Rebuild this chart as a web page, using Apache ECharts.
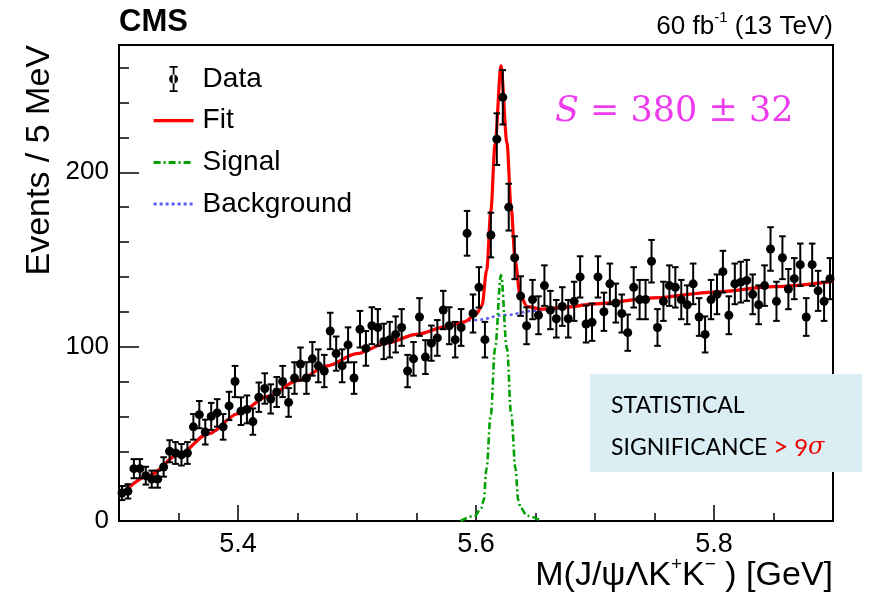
<!DOCTYPE html>
<html>
<head>
<meta charset="utf-8">
<script src="https://cdn.jsdelivr.net/npm/echarts@6/dist/echarts.min.js"></script>
<style>
html,body{margin:0;padding:0;background:#fff;}
#chart{width:874px;height:597px;}
</style>
</head>
<body>
<div id="chart"></div>
<script>
// ---- data ----
const binStart = 5.3;      // GeV, lower edge of first bin
const binWidth = 0.005;    // GeV (5 MeV)
const counts = [
  16, 17, 30, 30, 26, 24, 24, 31, 40, 39,
  38, 39, 54, 61, 51, 60, 62, 54, 66, 80,
  63, 64, 57, 71, 76, 70, 74, 80, 68, 82,
  90, 82, 93, 89, 86, 109, 96, 89, 101, 82,
  110, 99, 112, 111, 103, 104, 107, 111, 86, 93,
  117, 94, 102, 105, 121, 112, 104, 111, 165, 119,
  134, 104, 164, 219, 243, 180, 151, 129, 112, 127,
  118, 135, 121, 116, 123, 116, 126, 140, 113, 114,
  140, 120, 136, 125, 119, 108, 134, 127, 127, 149,
  111, 126, 135, 134, 127, 124, 136, 117, 107, 127,
  130, 143, 118, 136, 137, 138, 130, 124, 135, 156,
  126, 151, 133, 139, 147, 117, 147, 132, 126, 139
];
const bgMass   = [5.30, 5.325, 5.35, 5.375, 5.40, 5.425, 5.45, 5.475, 5.50, 5.525, 5.55, 5.575, 5.60, 5.625, 5.65, 5.70, 5.75, 5.80, 5.85, 5.90];
const bgValues = [14, 26, 38, 50, 61.5, 71.5, 80.5, 89, 96, 102, 107, 111.5, 115.3, 118.2, 120.6, 124.5, 128, 131.3, 134.4, 137.4];
const sigMass   = [5.587, 5.599, 5.6045, 5.6065, 5.6088, 5.6124, 5.616, 5.621, 5.626, 5.6296, 5.6332, 5.6355, 5.6375, 5.643, 5.655];
const sigValues = [0, 3, 7.5, 12, 30, 61, 99, 141, 99, 61, 30, 12, 7.5, 3, 0];
const fitMass   = [5.30, 5.325, 5.35, 5.375, 5.40, 5.425, 5.45, 5.475, 5.50, 5.525, 5.55, 5.575, 5.59, 5.60, 5.605, 5.609, 5.6125, 5.616, 5.621, 5.626, 5.6295, 5.633, 5.637, 5.643, 5.655, 5.675, 5.70, 5.75, 5.80, 5.85, 5.90];
const fitValues = [14, 26, 38, 50, 61.5, 71.5, 80.5, 89, 96, 102, 107, 111.5, 114.2, 118.3, 123.5, 144, 178, 216, 261, 217, 180, 149, 129.5, 123, 121.5, 122.6, 124.5, 128, 131.3, 134.4, 137.4];
const xMajorTicks = [5.4, 5.6, 5.8];
const xMinorTicks = [5.35, 5.45, 5.5, 5.55, 5.65, 5.7, 5.75, 5.85];
const yMajorTicks = [0, 100, 200];
const yMinorTicks = [20, 40, 60, 80, 120, 140, 160, 180, 220, 240, 260];

// ---- build series data ----
const pts = counts.map((c, i) => [binStart + binWidth * (i + 0.5), c]);
const errs = counts.map((c, i) => [binStart + binWidth * (i + 0.5), c, Math.sqrt(c)]);
const pair = (xs, ys) => xs.map((x, i) => [x, ys[i]]);

const FONT = 'Liberation Sans, Arial, sans-serif';
const chart = echarts.init(document.getElementById('chart'), null, {renderer: 'canvas'});

const dataIcon = 'path://M2,0h8v1.8h-8z M5.1,0h1.8v26h-1.8z M2,24.2h8v1.8h-8z M6,8.5 a4.5,4.5 0 1,0 0.001,0z';

const option = {
  animation: false,
  backgroundColor: '#fff',
  grid: {left: 119, right: 41, top: 45, bottom: 76, show: true, borderColor: '#000', borderWidth: 2, backgroundColor: 'transparent'},
  xAxis: [{
    type: 'value', min: 5.3, max: 5.9, position: 'bottom',
    axisLine: {show: false}, splitLine: {show: false},
    axisTick: {show: true, inside: true, length: 16, customValues: xMajorTicks, lineStyle: {color: '#000', width: 1.5}},
    axisLabel: {show: true, customValues: xMajorTicks, margin: 10, fontSize: 27, color: '#000', fontFamily: FONT,
      formatter: v => v.toFixed(1)}
  }, {
    type: 'value', min: 5.3, max: 5.9, position: 'bottom', gridIndex: 0,
    axisLine: {show: false}, splitLine: {show: false}, axisLabel: {show: false},
    axisTick: {show: true, inside: true, length: 8, customValues: xMinorTicks, lineStyle: {color: '#000', width: 1.5}}
  }],
  yAxis: [{
    type: 'value', min: 0, max: 273, position: 'left',
    axisLine: {show: false}, splitLine: {show: false},
    axisTick: {show: true, inside: true, length: 20, customValues: yMajorTicks, lineStyle: {color: '#000', width: 1.5}},
    axisLabel: {show: true, customValues: yMajorTicks, margin: 10, fontSize: 26, color: '#000', fontFamily: FONT}
  }, {
    type: 'value', min: 0, max: 273, position: 'left', gridIndex: 0,
    axisLine: {show: false}, splitLine: {show: false}, axisLabel: {show: false},
    axisTick: {show: true, inside: true, length: 10, customValues: yMinorTicks, lineStyle: {color: '#000', width: 1.5}}
  }],
  legend: {
    orient: 'vertical', left: 152, top: 64, padding: 0, itemWidth: 40, itemHeight: 26, itemGap: 11.7,
    selectedMode: false,
    textStyle: {fontSize: 28, lineHeight: 30, color: '#000', fontFamily: FONT, padding: [0, 0, 0, 4]},
    data: [
      {name: 'Data', icon: dataIcon, itemStyle: {color: '#000', opacity: 1}},
      {name: 'Fit', itemStyle: {opacity: 0}, lineStyle: {color: '#ff0000', width: 3.2}},
      {name: 'Signal', itemStyle: {opacity: 0}, lineStyle: {color: '#00a000', width: 3, type: [7, 3, 2, 3]}},
      {name: 'Background', itemStyle: {opacity: 0}, lineStyle: {color: '#5b5bf0', width: 3, type: [3, 3]}}
    ]
  },
  series: [
    {
      name: 'Background', type: 'line', data: pair(bgMass, bgValues), showSymbol: false, symbol: 'none',
      smooth: 0.4, smoothMonotone: 'x', z: 2,
      lineStyle: {color: '#5b5bf0', width: 2.5, type: [3, 3]}, itemStyle: {color: '#5b5bf0'}
    },
    {
      name: 'Signal', type: 'line', data: pair(sigMass, sigValues), showSymbol: false, symbol: 'none',
      smooth: 0.35, smoothMonotone: 'x', z: 3,
      lineStyle: {color: '#00a000', width: 2.6, type: [7, 3, 2, 3]}, itemStyle: {color: '#00a000'}
    },
    {
      name: 'Fit', type: 'line', data: pair(fitMass, fitValues), showSymbol: false, symbol: 'none',
      smooth: 0.3, smoothMonotone: 'x', z: 4,
      lineStyle: {color: '#ff0000', width: 3.2}, itemStyle: {color: '#ff0000'}
    },
    {
      name: 'DataErr', type: 'custom', data: errs, z: 5, clip: false,
      encode: {x: 0, y: 1},
      renderItem: function (params, api) {
        const x = api.value(0), y = api.value(1), e = api.value(2);
        const t = api.coord([x, y + e]);
        const b = api.coord([x, y - e]);
        const cap = 3.3;
        const st = {stroke: '#000', lineWidth: 2};
        return {type: 'group', children: [
          {type: 'line', shape: {x1: t[0], y1: t[1], x2: b[0], y2: b[1]}, style: st},
          {type: 'line', shape: {x1: t[0] - cap, y1: t[1], x2: t[0] + cap, y2: t[1]}, style: st},
          {type: 'line', shape: {x1: b[0] - cap, y1: b[1], x2: b[0] + cap, y2: b[1]}, style: st}
        ]};
      }
    },
    {
      name: 'Data', type: 'scatter', data: pts, symbol: 'circle', symbolSize: 9, z: 6,
      itemStyle: {color: '#000', opacity: 1}
    }
  ],
  graphic: [
    {type: 'text', left: 119, top: 7, z: 10,
      style: {text: 'CMS', fontSize: 31, fontWeight: 'bold', fontFamily: FONT, fill: '#000'}},
    {type: 'text', right: 41, top: 10, z: 10,
      style: {text: '{n|60 fb}{s|-1}{n| (13 TeV)}', fontFamily: FONT, fill: '#000',
        rich: {n: {fontSize: 26, fontFamily: FONT, lineHeight: 30, verticalAlign: 'bottom'},
               s: {fontSize: 15, fontFamily: FONT, lineHeight: 30, verticalAlign: 'top', padding: [0, 0, 13, 0]}}}},
    {type: 'text', x: 40, y: 45, rotation: Math.PI / 2, z: 10,
      style: {text: 'Events / 5 MeV', fontSize: 34, fontFamily: FONT, fill: '#000', align: 'right', verticalAlign: 'middle'}},
    {type: 'text', right: 41, top: 555, z: 10,
      style: {text: '{n|M(J/ψΛK}{s|+}{n|K}{s|−}{n| ) [GeV]}', fontFamily: FONT, fill: '#000',
        rich: {n: {fontSize: 34, fontFamily: FONT, lineHeight: 38, verticalAlign: 'bottom'},
               s: {fontSize: 19, fontFamily: FONT, lineHeight: 38, verticalAlign: 'top', padding: [0, 0, 16, 0]}}}},
    {type: 'text', left: 555, top: 94, z: 10,
      style: {text: '{i|S} = 380 ± 32', fontSize: 35, fontFamily: 'DejaVu Serif, serif', fill: '#ee3bee',
        rich: {i: {fontSize: 35, fontFamily: 'DejaVu Serif, serif', fontStyle: 'italic', fill: '#ee3bee'}}}},
    {type: 'rect', left: 590, top: 374, z: 20,
      shape: {width: 272, height: 98}, style: {fill: '#dbeef4'}},
    {type: 'text', left: 611, top: 394, z: 21,
      style: {text: 'STATISTICAL', fontSize: 23, fontFamily: 'Lato, sans-serif', fill: '#000'}},
    {type: 'text', left: 611, top: 435, z: 21,
      style: {text: 'SIGNIFICANCE {r|>} {d|9}{g|σ}', fontSize: 23, fontFamily: 'Lato, sans-serif', fill: '#000',
        rich: {r: {fontSize: 26, fontFamily: 'Lato, sans-serif', fill: '#ee0000'},
               d: {fontSize: 24, fontFamily: 'Lato, sans-serif', fill: '#ee0000'},
               g: {fontSize: 24, fontFamily: 'DejaVu Serif, serif', fontStyle: 'italic', fill: '#ee0000'}}}}
  ]
};
chart.setOption(option);
</script>
</body>
</html>
